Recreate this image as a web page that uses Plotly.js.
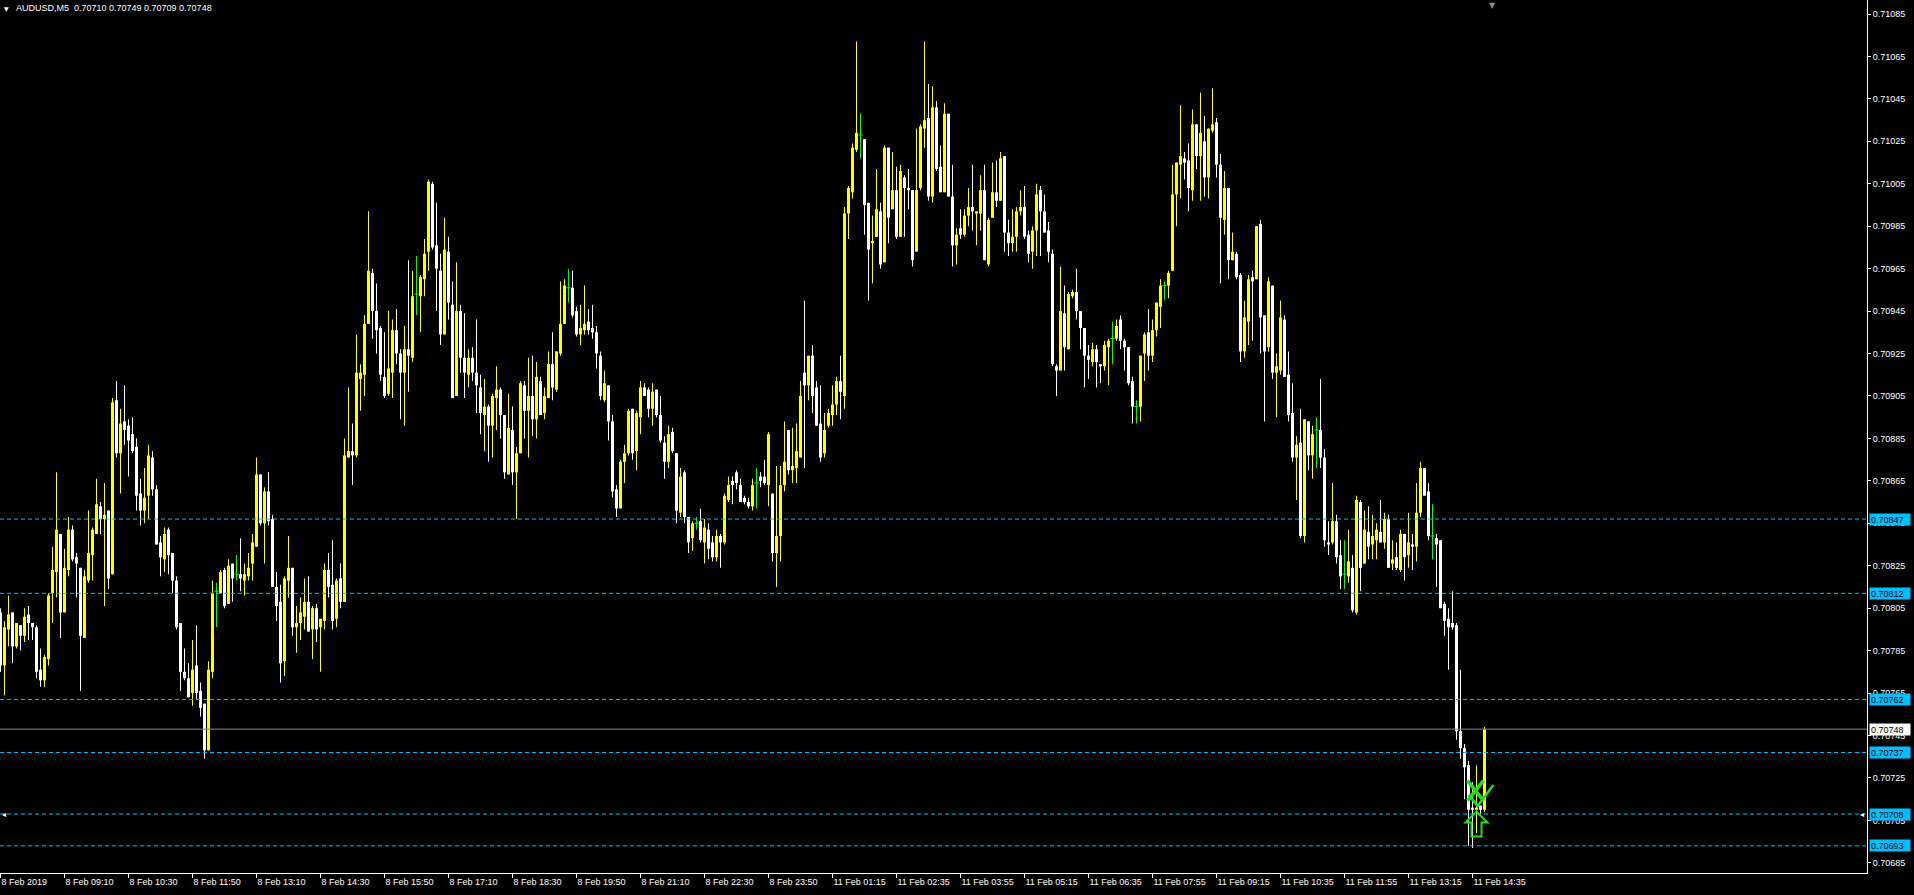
<!DOCTYPE html>
<html><head><meta charset="utf-8">
<script src="https://cdn.plot.ly/plotly-3.0.1.min.js"></script>
<style>html,body{margin:0;padding:0;background:#000;overflow:hidden}#chart{width:1914px;height:895px}</style>
</head><body><div id="chart"></div>
<script>
const symbol = "AUDUSD";
const period = "M5";
const sessions = [{day: "8 Feb", start: "07:50", count: 194}, {day: "11 Feb", start: "00:05", count: 178}];

const open = [
0.70803,0.70778,0.70795,0.70803,0.70787,0.70797,0.70792,0.70802,0.70798,0.70796,
0.70776,0.70771,0.70781,0.70812,0.70822,0.70840,0.70803,0.70823,0.70842,0.70829,
0.70824,0.70791,0.70818,0.70830,0.70840,0.70853,0.70847,0.70851,0.70821,0.70903,
0.70878,0.70893,0.70891,0.70887,0.70881,0.70859,0.70851,0.70858,0.70876,0.70861,
0.70836,0.70828,0.70842,0.70831,0.70818,0.70798,0.70775,0.70772,0.70765,0.70778,
0.70766,0.70760,0.70738,0.70775,0.70813,0.70812,0.70823,0.70807,0.70826,0.70821,
0.70821,0.70818,0.70820,0.70826,0.70834,0.70868,0.70845,0.70860,0.70847,0.70815,
0.70808,0.70780,0.70818,0.70824,0.70796,0.70798,0.70801,0.70808,0.70795,0.70805,
0.70796,0.70799,0.70823,0.70816,0.70800,0.70819,0.70808,0.70876,0.70879,0.70877,
0.70913,0.70915,0.70939,0.70963,0.70945,0.70937,0.70914,0.70906,0.70916,0.70936,
0.70925,0.70916,0.70927,0.70923,0.70953,0.70952,0.70960,0.70973,0.71005,0.70976,
0.70964,0.70934,0.70973,0.70948,0.70905,0.70945,0.70923,0.70915,0.70923,0.70916,
0.70909,0.70896,0.70900,0.70891,0.70904,0.70908,0.70896,0.70868,0.70889,0.70869,
0.70878,0.70910,0.70898,0.70905,0.70894,0.70912,0.70897,0.70904,0.70920,0.70908,
0.70925,0.70939,0.70956,0.70956,0.70945,0.70934,0.70936,0.70940,0.70937,0.70935,
0.70924,0.70903,0.70910,0.70893,0.70861,0.70852,0.70874,0.70878,0.70899,0.70879,
0.70895,0.70909,0.70908,0.70899,0.70908,0.70896,0.70883,0.70874,0.70888,0.70878,
0.70850,0.70869,0.70848,0.70838,0.70845,0.70846,0.70836,0.70842,0.70836,0.70829,
0.70839,0.70836,0.70856,0.70865,0.70869,0.70863,0.70857,0.70855,0.70853,0.70864,
0.70867,0.70867,0.70863,0.70859,0.70831,0.70839,0.70863,0.70889,0.70870,0.70871,
0.70876,0.70916,0.70910,0.70924,0.70909,0.70892,0.70878,0.70891,0.70896,0.70901,
0.70912,0.70905,0.70991,0.71001,0.71021,0.71028,0.71026,0.70996,0.70977,0.70980,
0.70992,0.70968,0.71022,0.70993,0.71002,0.70980,0.71008,0.71003,0.71002,0.70973,
0.71003,0.71031,0.71036,0.70999,0.71041,0.71013,0.71001,0.71038,0.70999,0.70976,
0.70984,0.70981,0.70990,0.70994,0.70991,0.70991,0.71002,0.70967,0.70989,0.71001,
0.70997,0.71018,0.70982,0.70977,0.70980,0.70992,0.70994,0.70981,0.70973,0.70983,
0.71002,0.70992,0.70983,0.70972,0.70919,0.70917,0.70944,0.70927,0.70952,0.70954,
0.70945,0.70937,0.70924,0.70921,0.70927,0.70920,0.70919,0.70928,0.70932,0.70932,
0.70941,0.70931,0.70928,0.70912,0.70900,0.70900,0.70925,0.70935,0.70924,0.70936,
0.70947,0.70957,0.70957,0.70964,0.71000,0.71014,0.71017,0.71016,0.71002,0.71033,
0.71018,0.71025,0.71008,0.71030,0.71034,0.71014,0.70988,0.71003,0.70969,0.70972,
0.70962,0.70926,0.70940,0.70961,0.70960,0.70986,0.70943,0.70928,0.70957,0.70916,
0.70917,0.70941,0.70915,0.70897,0.70876,0.70883,0.70839,0.70893,0.70877,0.70889,
0.70889,0.70876,0.70836,0.70836,0.70846,0.70830,0.70821,0.70820,0.70824,0.70803,
0.70855,0.70826,0.70841,0.70835,0.70837,0.70841,0.70836,0.70847,0.70826,0.70829,
0.70823,0.70840,0.70830,0.70835,0.70834,0.70850,0.70871,0.70860,0.70839,0.70838,
0.70837,0.70807,0.70800,0.70798,0.70797,0.70747,0.70739,0.70731,0.70711,0.70710,
0.70712,0.70710];

const high = [
0.70805,0.70799,0.70811,0.70803,0.70798,0.70797,0.70805,0.70806,0.70798,0.70797,
0.70786,0.70783,0.70812,0.70834,0.70869,0.70840,0.70833,0.70848,0.70844,0.70831,
0.70824,0.70823,0.70851,0.70843,0.70866,0.70855,0.70864,0.70851,0.70904,0.70912,
0.70899,0.70910,0.70894,0.70895,0.70885,0.70866,0.70871,0.70882,0.70879,0.70863,
0.70839,0.70843,0.70843,0.70831,0.70820,0.70798,0.70786,0.70779,0.70790,0.70797,
0.70770,0.70760,0.70780,0.70818,0.70817,0.70823,0.70824,0.70828,0.70826,0.70830,
0.70838,0.70826,0.70831,0.70840,0.70876,0.70868,0.70862,0.70869,0.70849,0.70822,
0.70816,0.70820,0.70839,0.70824,0.70806,0.70810,0.70819,0.70820,0.70806,0.70807,
0.70800,0.70826,0.70831,0.70837,0.70819,0.70826,0.70885,0.70909,0.70892,0.70934,
0.70920,0.70943,0.70992,0.70965,0.70958,0.70938,0.70935,0.70945,0.70941,0.70946,
0.70927,0.70938,0.70969,0.70964,0.70971,0.70962,0.70979,0.71007,0.71006,0.70996,
0.70972,0.70989,0.70980,0.70959,0.70968,0.70948,0.70944,0.70927,0.70928,0.70941,
0.70915,0.70913,0.70901,0.70906,0.70919,0.70909,0.70896,0.70906,0.70900,0.70881,
0.70912,0.70912,0.70923,0.70924,0.70921,0.70914,0.70909,0.70926,0.70935,0.70926,
0.70959,0.70960,0.70965,0.70964,0.70947,0.70948,0.70957,0.70946,0.70948,0.70938,
0.70926,0.70917,0.70910,0.70896,0.70863,0.70875,0.70882,0.70899,0.70899,0.70898,
0.70912,0.70911,0.70909,0.70911,0.70908,0.70905,0.70886,0.70891,0.70890,0.70878,
0.70871,0.70870,0.70848,0.70846,0.70848,0.70852,0.70847,0.70845,0.70839,0.70842,
0.70840,0.70859,0.70867,0.70867,0.70870,0.70866,0.70858,0.70857,0.70866,0.70871,
0.70869,0.70875,0.70888,0.70859,0.70872,0.70872,0.70893,0.70889,0.70890,0.70892,
0.70912,0.70950,0.70924,0.70929,0.70912,0.70910,0.70897,0.70899,0.70910,0.70914,
0.70924,0.70994,0.71004,0.71024,0.71072,0.71038,0.71026,0.70996,0.70990,0.71012,
0.70996,0.71023,0.71022,0.71020,0.71013,0.71014,0.71009,0.71012,0.71002,0.71031,
0.71033,0.71072,0.71052,0.71051,0.71044,0.71023,0.71043,0.71038,0.71014,0.70984,
0.70993,0.70993,0.71003,0.71014,0.70992,0.71009,0.71014,0.70989,0.71015,0.71016,
0.71020,0.71018,0.70988,0.70993,0.70994,0.71002,0.71004,0.70983,0.70985,0.71005,
0.71004,0.71000,0.70987,0.70974,0.70920,0.70966,0.70957,0.70954,0.70955,0.70965,
0.70945,0.70937,0.70929,0.70930,0.70929,0.70920,0.70931,0.70932,0.70940,0.70941,
0.70943,0.70932,0.70928,0.70914,0.70903,0.70924,0.70935,0.70946,0.70941,0.70949,
0.70960,0.70959,0.70964,0.71014,0.71015,0.71042,0.71020,0.71024,0.71040,0.71033,
0.71048,0.71037,0.71031,0.71050,0.71036,0.71019,0.71011,0.71003,0.70982,0.70973,
0.70963,0.70950,0.70962,0.70964,0.70985,0.70988,0.70943,0.70961,0.70957,0.70925,
0.70950,0.70943,0.70926,0.70911,0.70886,0.70899,0.70894,0.70893,0.70891,0.70895,
0.70913,0.70880,0.70846,0.70864,0.70849,0.70837,0.70837,0.70842,0.70830,0.70858,
0.70856,0.70851,0.70853,0.70849,0.70845,0.70856,0.70850,0.70849,0.70837,0.70836,
0.70842,0.70840,0.70850,0.70840,0.70864,0.70874,0.70871,0.70864,0.70854,0.70840,
0.70837,0.70808,0.70805,0.70813,0.70798,0.70776,0.70741,0.70733,0.70723,0.70731,
0.70712,0.70749];

const low = [
0.70775,0.70764,0.70787,0.70779,0.70786,0.70785,0.70789,0.70790,0.70790,0.70772,
0.70768,0.70768,0.70778,0.70798,0.70810,0.70791,0.70803,0.70820,0.70827,0.70810,
0.70766,0.70791,0.70817,0.70818,0.70840,0.70840,0.70806,0.70814,0.70821,0.70876,
0.70859,0.70882,0.70867,0.70878,0.70851,0.70844,0.70845,0.70847,0.70858,0.70835,
0.70820,0.70822,0.70821,0.70812,0.70795,0.70766,0.70771,0.70763,0.70759,0.70762,
0.70754,0.70734,0.70738,0.70772,0.70796,0.70812,0.70805,0.70807,0.70808,0.70818,
0.70813,0.70811,0.70818,0.70818,0.70834,0.70844,0.70826,0.70844,0.70815,0.70799,
0.70770,0.70773,0.70810,0.70792,0.70784,0.70790,0.70795,0.70794,0.70781,0.70789,
0.70775,0.70795,0.70810,0.70795,0.70796,0.70805,0.70808,0.70876,0.70863,0.70876,
0.70898,0.70905,0.70939,0.70932,0.70925,0.70912,0.70904,0.70905,0.70904,0.70920,
0.70894,0.70891,0.70907,0.70921,0.70943,0.70935,0.70952,0.70964,0.70974,0.70945,
0.70929,0.70934,0.70941,0.70904,0.70905,0.70916,0.70904,0.70909,0.70912,0.70897,
0.70887,0.70879,0.70874,0.70876,0.70889,0.70885,0.70866,0.70868,0.70863,0.70847,
0.70878,0.70885,0.70876,0.70886,0.70885,0.70896,0.70894,0.70904,0.70903,0.70907,
0.70924,0.70939,0.70949,0.70942,0.70933,0.70929,0.70934,0.70934,0.70932,0.70918,
0.70903,0.70902,0.70884,0.70857,0.70848,0.70852,0.70864,0.70877,0.70875,0.70870,
0.70887,0.70905,0.70895,0.70891,0.70895,0.70883,0.70866,0.70871,0.70878,0.70845,
0.70848,0.70845,0.70831,0.70832,0.70842,0.70836,0.70826,0.70828,0.70827,0.70827,
0.70824,0.70835,0.70855,0.70854,0.70861,0.70855,0.70854,0.70852,0.70851,0.70852,
0.70862,0.70863,0.70853,0.70827,0.70815,0.70827,0.70860,0.70868,0.70864,0.70864,
0.70876,0.70871,0.70903,0.70897,0.70891,0.70874,0.70876,0.70890,0.70891,0.70896,
0.70894,0.70899,0.70979,0.70998,0.71020,0.71017,0.70981,0.70950,0.70958,0.70980,
0.70965,0.70968,0.70977,0.70993,0.70979,0.70980,0.70980,0.70993,0.70966,0.70973,
0.71002,0.71022,0.70997,0.70996,0.71011,0.71001,0.71001,0.70999,0.70966,0.70967,
0.70979,0.70980,0.70985,0.70983,0.70976,0.70983,0.70969,0.70966,0.70989,0.70994,
0.70997,0.70973,0.70971,0.70973,0.70973,0.70990,0.70979,0.70968,0.70965,0.70971,
0.70971,0.70982,0.70968,0.70919,0.70905,0.70917,0.70917,0.70927,0.70951,0.70941,
0.70927,0.70909,0.70913,0.70919,0.70909,0.70911,0.70917,0.70910,0.70920,0.70931,
0.70927,0.70917,0.70910,0.70892,0.70892,0.70893,0.70912,0.70917,0.70921,0.70933,
0.70937,0.70950,0.70951,0.70964,0.70985,0.70998,0.71007,0.70992,0.70997,0.71012,
0.70997,0.70999,0.70998,0.71029,0.71008,0.70958,0.70981,0.70960,0.70969,0.70960,
0.70921,0.70923,0.70929,0.70931,0.70960,0.70925,0.70893,0.70926,0.70913,0.70895,
0.70915,0.70914,0.70893,0.70874,0.70856,0.70838,0.70836,0.70870,0.70866,0.70871,
0.70871,0.70834,0.70830,0.70835,0.70826,0.70814,0.70814,0.70817,0.70803,0.70802,
0.70813,0.70826,0.70828,0.70828,0.70828,0.70836,0.70833,0.70824,0.70823,0.70823,
0.70822,0.70818,0.70824,0.70823,0.70827,0.70848,0.70858,0.70837,0.70828,0.70815,
0.70805,0.70792,0.70776,0.70795,0.70743,0.70734,0.70715,0.70693,0.70692,0.70699,
0.70708,0.70709];

const close = [
0.70778,0.70796,0.70802,0.70787,0.70798,0.70792,0.70801,0.70798,0.70796,0.70775,
0.70771,0.70782,0.70811,0.70823,0.70842,0.70803,0.70824,0.70842,0.70828,0.70826,
0.70792,0.70820,0.70831,0.70842,0.70854,0.70847,0.70849,0.70819,0.70902,0.70878,
0.70892,0.70889,0.70884,0.70879,0.70858,0.70851,0.70857,0.70877,0.70861,0.70835,
0.70829,0.70840,0.70830,0.70818,0.70796,0.70775,0.70772,0.70763,0.70776,0.70765,
0.70758,0.70738,0.70776,0.70812,0.70813,0.70822,0.70806,0.70825,0.70819,0.70821,
0.70819,0.70821,0.70824,0.70836,0.70868,0.70845,0.70860,0.70846,0.70815,0.70806,
0.70779,0.70819,0.70824,0.70796,0.70798,0.70803,0.70808,0.70794,0.70805,0.70795,
0.70800,0.70823,0.70815,0.70799,0.70818,0.70808,0.70877,0.70879,0.70877,0.70916,
0.70916,0.70939,0.70964,0.70945,0.70936,0.70915,0.70905,0.70918,0.70936,0.70925,
0.70916,0.70927,0.70924,0.70952,0.70953,0.70961,0.70972,0.71006,0.70975,0.70965,
0.70934,0.70974,0.70949,0.70904,0.70945,0.70923,0.70916,0.70923,0.70916,0.70910,
0.70897,0.70900,0.70891,0.70905,0.70908,0.70896,0.70869,0.70890,0.70869,0.70878,
0.70911,0.70898,0.70905,0.70894,0.70914,0.70896,0.70905,0.70920,0.70909,0.70926,
0.70939,0.70957,0.70956,0.70943,0.70934,0.70937,0.70939,0.70936,0.70935,0.70925,
0.70905,0.70911,0.70893,0.70860,0.70852,0.70874,0.70878,0.70898,0.70878,0.70897,
0.70909,0.70905,0.70899,0.70907,0.70896,0.70884,0.70874,0.70887,0.70879,0.70851,
0.70867,0.70848,0.70836,0.70845,0.70845,0.70837,0.70843,0.70833,0.70829,0.70839,
0.70836,0.70858,0.70863,0.70863,0.70864,0.70855,0.70855,0.70853,0.70863,0.70864,
0.70865,0.70864,0.70887,0.70831,0.70839,0.70863,0.70874,0.70870,0.70872,0.70879,
0.70905,0.70910,0.70924,0.70905,0.70891,0.70876,0.70889,0.70897,0.70901,0.70912,
0.70907,0.70991,0.71003,0.71022,0.71029,0.71028,0.70995,0.70974,0.70978,0.70993,
0.70967,0.71022,0.70989,0.71002,0.70980,0.71011,0.71003,0.71002,0.70969,0.71002,
0.71032,0.71035,0.70999,0.71041,0.71012,0.71001,0.71038,0.70999,0.70976,0.70981,
0.70981,0.70990,0.70994,0.70992,0.70992,0.71002,0.70969,0.70988,0.71001,0.70997,
0.71017,0.70982,0.70977,0.70980,0.70992,0.70994,0.70980,0.70972,0.70983,0.71000,
0.70992,0.70982,0.70973,0.70920,0.70917,0.70945,0.70928,0.70953,0.70954,0.70945,
0.70937,0.70924,0.70922,0.70927,0.70921,0.70919,0.70929,0.70931,0.70932,0.70938,
0.70931,0.70928,0.70911,0.70900,0.70900,0.70924,0.70934,0.70924,0.70936,0.70949,
0.70957,0.70957,0.70963,0.71000,0.71015,0.71018,0.71015,0.71003,0.71033,0.71018,
0.71029,0.71008,0.71031,0.71033,0.71014,0.70989,0.71003,0.70969,0.70973,0.70961,
0.70926,0.70942,0.70960,0.70959,0.70985,0.70942,0.70926,0.70959,0.70916,0.70919,
0.70942,0.70914,0.70896,0.70876,0.70882,0.70839,0.70894,0.70877,0.70887,0.70889,
0.70876,0.70837,0.70835,0.70846,0.70829,0.70820,0.70821,0.70827,0.70804,0.70856,
0.70824,0.70842,0.70834,0.70839,0.70842,0.70836,0.70847,0.70824,0.70828,0.70824,
0.70840,0.70829,0.70836,0.70834,0.70850,0.70871,0.70858,0.70839,0.70839,0.70835,
0.70805,0.70799,0.70796,0.70796,0.70747,0.70739,0.70730,0.70710,0.70710,0.70711,
0.70710,0.70748];

const tickTimes = ["8 Feb 07:50","8 Feb 09:10","8 Feb 10:30","8 Feb 11:50","8 Feb 13:10","8 Feb 14:30","8 Feb 15:50","8 Feb 17:10","8 Feb 18:30","8 Feb 19:50","8 Feb 21:10","8 Feb 22:30","8 Feb 23:50","11 Feb 01:15","11 Feb 02:35","11 Feb 03:55","11 Feb 05:15","11 Feb 06:35","11 Feb 07:55","11 Feb 09:15","11 Feb 10:35","11 Feb 11:55","11 Feb 13:15","11 Feb 14:35"];
const tickText = ["8 Feb 2019","8 Feb 09:10","8 Feb 10:30","8 Feb 11:50","8 Feb 13:10","8 Feb 14:30","8 Feb 15:50","8 Feb 17:10","8 Feb 18:30","8 Feb 19:50","8 Feb 21:10","8 Feb 22:30","8 Feb 23:50","11 Feb 01:15","11 Feb 02:35","11 Feb 03:55","11 Feb 05:15","11 Feb 06:35","11 Feb 07:55","11 Feb 09:15","11 Feb 10:35","11 Feb 11:55","11 Feb 13:15","11 Feb 14:35"];

const levels = [0.70847, 0.70812, 0.70762, 0.70737, 0.70708, 0.70693];
const signalKinds = ["cross", "check", "arrowUp"];
const signalTimes = ["11 Feb 14:40", "11 Feb 14:40", "11 Feb 14:40"];
const signalPrices = [0.70719, 0.70717, 0.70703];

// ---- build ----
const times = [];
sessions.forEach(s => {
  const [h, m] = s.start.split(":").map(Number);
  for (let k = 0; k < s.count; k++) {
    const t = h * 60 + m + 5 * k;
    times.push(s.day + " " + String(Math.floor(t / 60)).padStart(2, "0") + ":" + String(t % 60).padStart(2, "0"));
  }
});
const idx = times.map((_, i) => i);
const YEL = "#FFFF00", WHT = "#FFFFFF", GRN = "#00FF00", CYAN = "#00BFFF", SIG = "#22DD22";
const FONT = "Liberation Sans, Arial, sans-serif";

const candleColor = idx.map(i => close[i] > open[i] ? YEL : (close[i] < open[i] ? WHT : GRN));
const bull = idx.filter(i => close[i] > open[i]);
const bear = idx.filter(i => close[i] < open[i]);
const doji = idx.filter(i => close[i] === open[i]);

const traces = [
  {type: "bar", x: idx, base: idx.map(i => low[i]), y: idx.map(i => high[i] - low[i]), width: 0.25,
   marker: {color: candleColor, line: {width: 0}}, hoverinfo: "skip"},
  {type: "bar", x: bull, base: bull.map(i => open[i]), y: bull.map(i => close[i] - open[i]), width: 0.75,
   marker: {color: YEL, line: {width: 0}}, hoverinfo: "skip"},
  {type: "bar", x: bear, base: bear.map(i => close[i]), y: bear.map(i => open[i] - close[i]), width: 0.75,
   marker: {color: WHT, line: {width: 0}}, hoverinfo: "skip"},
  {type: "scatter", mode: "markers", x: doji, y: doji.map(i => open[i]),
   marker: {symbol: "line-ew", size: 3, line: {color: GRN, width: 1}}, hoverinfo: "skip"}
];

const last = open.length - 1;
const bid = close[last];
const shapes = levels.map(v => ({type: "line", xref: "paper", x0: 0, x1: 1, yref: "y", y0: v, y1: v,
  line: {color: CYAN, width: 1, dash: "4px,3px"}, layer: "above"}));
shapes.push({type: "line", xref: "paper", x0: 0, x1: 1, yref: "y", y0: bid, y1: bid, line: {color: "#778899", width: 1}, layer: "above"});

// trade-signal glyph outlines (pixel offsets around each anchor)
const glyphPaths = {
  cross: {path: "M-9,10 L7,-10 M7,10 L-9,-10", width: 3.5},
  check: {path: "M-8,0 L1,-11 L17,10", width: 2.5},
  arrowUp: {path: "M0,13 L11,2 L5,2 L5,-12 L-5,-12 L-5,2 L-11,2 Z", width: 2}
};
signalKinds.forEach((k, n) => shapes.push({type: "path", xref: "x", yref: "y",
  xsizemode: "pixel", ysizemode: "pixel", xanchor: times.indexOf(signalTimes[n]), yanchor: signalPrices[n],
  path: glyphPaths[k].path, line: {color: SIG, width: glyphPaths[k].width}, layer: "above"}));

const annotations = [];
levels.forEach(v => annotations.push({xref: "paper", x: 1, xanchor: "left", xshift: 2, yref: "y", y: v, yanchor: "middle",
  text: v.toFixed(5), showarrow: false, bgcolor: CYAN, font: {family: FONT, size: 9, color: "#000"},
  width: 38, height: 9, borderpad: 1, align: "left"}));
annotations.push({xref: "paper", x: 1, xanchor: "left", xshift: 2, yref: "y", y: bid, yanchor: "middle",
  text: bid.toFixed(5), showarrow: false, bgcolor: "#FFFFFF", font: {family: FONT, size: 9, color: "#000"},
  width: 38, height: 9, borderpad: 1, align: "left"});
// header
annotations.push({xref: "paper", yref: "paper", x: 2 / 1867, y: 1, xanchor: "left", yanchor: "top", yshift: -3,
  text: "\u25BC", showarrow: false, font: {family: "DejaVu Sans", size: 6, color: "#FFFFFF"}});
annotations.push({xref: "paper", yref: "paper", x: 14 / 1867, y: 1, xanchor: "left", yanchor: "top", yshift: -1,
  text: symbol + "," + period + "  " + [open[last], high[last], low[last], close[last]].map(v => v.toFixed(5)).join(" "),
  showarrow: false, font: {family: FONT, size: 9, color: "#FFFFFF"}});
// chart-shift marker
annotations.push({xref: "x", yref: "paper", x: last + 2, y: 1, xanchor: "center", yanchor: "top", yshift: 1,
  text: "\u25BC", showarrow: false, font: {family: "DejaVu Sans", size: 8, color: "#8A8A9A"}});
// line-end markers on 0.70708
annotations.push({xref: "paper", yref: "y", x: 0, y: levels[4], xanchor: "left", yanchor: "middle", xshift: 0,
  text: "\u25C2", showarrow: false, font: {family: "DejaVu Sans", size: 8, color: "#FFFFFF"}});
annotations.push({xref: "paper", yref: "y", x: 1, y: levels[4], xanchor: "right", yanchor: "middle", xshift: -1,
  text: "\u25C2", showarrow: false, font: {family: "DejaVu Sans", size: 8, color: "#FFFFFF"}});

const layout = {
  width: 1914, height: 895,
  margin: {l: 0, r: 47, t: 0, b: 22, pad: 0},
  paper_bgcolor: "#000000", plot_bgcolor: "#000000",
  showlegend: false, barmode: "overlay",
  xaxis: {range: [-0.125, 466.625], showgrid: false, zeroline: false, showline: true, linecolor: "#FFFFFF", linewidth: 1,
    ticks: "outside", ticklen: 4, tickcolor: "#FFFFFF", tickmode: "array",
    tickvals: tickTimes.map(t => times.indexOf(t)), ticktext: tickText,
    ticklabelposition: "outside right", tickfont: {family: FONT, size: 9, color: "#FFFFFF"}, fixedrange: true},
  yaxis: {side: "right", range: [0.706802, 0.710916], showgrid: false, zeroline: false, showline: true,
    linecolor: "#FFFFFF", linewidth: 1, ticks: "outside", ticklen: 3, tickcolor: "#FFFFFF",
    tick0: 0.70685, dtick: 0.0002, tickformat: ".5f", tickfont: {family: FONT, size: 9, color: "#FFFFFF"}, fixedrange: true},
  shapes: shapes, annotations: annotations
};
Plotly.newPlot("chart", traces, layout, {displayModeBar: false, staticPlot: true});
</script></body></html>
